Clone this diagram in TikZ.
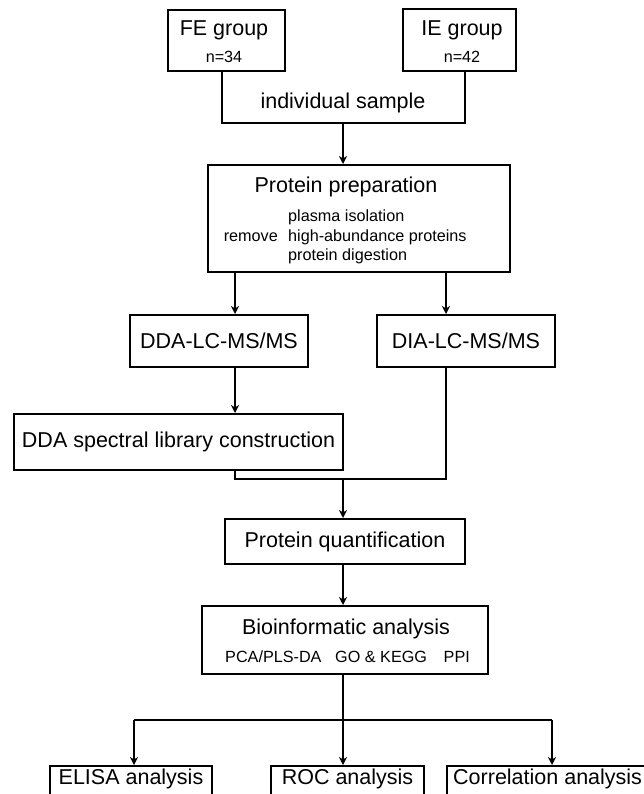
\documentclass[tikz,border=0pt]{standalone}
\usepackage{fontspec}
\setmainfont{Liberation Sans}
\usetikzlibrary{arrows.meta}
\newcommand\lgfont{\fontsize{21.5}{25}\selectfont}
\newcommand\smfont{\fontsize{16.2}{19}\selectfont}
\begin{document}
\begin{tikzpicture}[x=1pt,y=-1pt,
  box/.style={draw,line width=2pt,inner sep=0pt,font=\lgfont},
  lg/.style={inner sep=0pt,font=\lgfont},
  sm/.style={inner sep=0pt,font=\smfont},
  ln/.style={line width=2pt},
  arr/.style={line width=2pt,-{Stealth[length=8pt,width=8pt,inset=2.5pt]}}]
\clip (0,0) rectangle (644,794);
\useasboundingbox (0,0) rectangle (644,794);
% top boxes
\node[box,minimum width=117,minimum height=61] (fe) at (226.5,40.5) {};
\node[lg] (fet) at (224,30) {FE group};
\node[sm] (fen) at (224,57) {n=34};
\node[box,minimum width=113,minimum height=62] (ie) at (459.5,40) {};
\node[lg] (iet) at (462,30) {IE group};
\node[sm] (ien) at (462,57) {n=42};
\coordinate (bl) at (222,123);
\coordinate (br) at (465,123);
\coordinate (bm) at (343,123);
\draw[ln] (fe.south -| bl) -- (bl) -- (br) -- (ie.south -| br);
\node[lg] (indiv) at (343,103) {individual sample};
% protein preparation
\node[box,minimum width=302,minimum height=107] (prep) at (359,218.5) {};
\draw[arr] (bm) -- (prep.north -| bm);
\node[lg] (prept) at (346,187) {Protein preparation};
\node[sm,anchor=west] (p1) at (288,217) {plasma isolation};
\node[sm,anchor=west] (p2) at (288,237) {high-abundance proteins};
\node[sm,anchor=west] (p3) at (288,256) {protein digestion};
\node[sm,anchor=east] (prem) at (278,237) {remove};
% LC-MS
\coordinate (xl) at (235,0);
\coordinate (xr) at (446,0);
\node[box,minimum width=178,minimum height=52] (dda) at (219,341) {DDA-LC-MS/MS};
\node[box,minimum width=178,minimum height=52] (dia) at (466,341) {DIA-LC-MS/MS};
\draw[arr] (prep.south -| xl) -- (dda.north -| xl);
\draw[arr] (prep.south -| xr) -- (dia.north -| xr);
\node[box,minimum width=329,minimum height=56] (lib) at (178.5,442) {DDA spectral library construction};
\draw[arr] (dda.south -| xl) -- (lib.north -| xl);
\coordinate (ml) at (235,479);
\coordinate (mr) at (446,479);
\coordinate (mm) at (343,479);
\draw[ln] (lib.south -| ml) -- (ml) -- (mr) -- (dia.south -| mr);
% quantification
\node[box,minimum width=240,minimum height=45] (quant) at (345,541.5) {Protein quantification};
\draw[arr] (mm) -- (quant.north -| mm);
% bioinformatic
\node[box,minimum width=286,minimum height=68] (bio) at (345,640) {};
\draw[arr] (quant.south -| mm) -- (bio.north -| mm);
\node[lg] (biot) at (346,629) {Bioinformatic analysis};
\node[sm,anchor=west] (b1) at (225,657) {PCA/PLS-DA};
\node[sm,anchor=west] (b2) at (335,657) {GO \& KEGG};
\node[sm,anchor=east] (b3) at (470,657) {PPI};
% bottom
\coordinate (sp) at (343,720);
\coordinate (sl) at (134,720);
\coordinate (sr) at (552,720);
\node[box,minimum width=162,minimum height=50] (elisa) at (131,791) {};
\node[box,minimum width=153,minimum height=50] (roc) at (347.5,791) {};
\node[box,minimum width=215,minimum height=50] (corr) at (554.5,791) {};
\node[lg] (elisat) at (131,779) {ELISA analysis};
\node[lg] (roct) at (347.5,779) {ROC analysis};
\node[lg,anchor=west] (corrt) at (453,779) {Correlation analysis};
\draw[ln] (bio.south -| sp) -- (sp);
\draw[ln] (sl) -- (sr);
\draw[arr] (sl) -- (elisa.north -| sl);
\draw[arr] (sp) -- (roc.north -| sp);
\draw[arr] (sr) -- (corr.north -| sr);
\end{tikzpicture}
\end{document}
